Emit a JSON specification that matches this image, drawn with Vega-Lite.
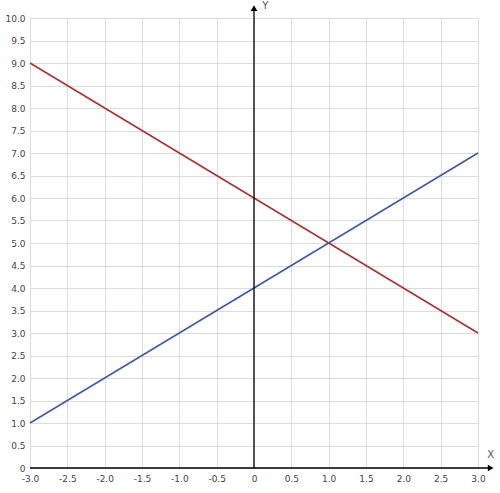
{
  "$schema": "https://vega.github.io/schema/vega-lite/v6.json",
  "width": 448,
  "height": 450,
  "autosize": {"type": "none"},
  "padding": {"left": 30, "top": 18, "right": 22, "bottom": 25},
  "background": "white",
  "config": {"view": {"stroke": null}, "font": "DejaVu Sans"},
  "datasets": {
    "lines": [
      {"series": "red", "x": -3, "y": 9},
      {"series": "red", "x": 3, "y": 3},
      {"series": "blue", "x": -3, "y": 1},
      {"series": "blue", "x": 3, "y": 7}
    ],
    "yaxis": [{"x": 0, "y": 0, "y2": 10.25}],
    "xaxis": [{"y": 0, "x": -3, "x2": 3.15}],
    "yarrow": [{"x": 0, "y": 10.22}],
    "xarrow": [{"x": 3.17, "y": 0}],
    "labels": [{"t": "Y", "x": 0.15, "y": 10.26}, {"t": "X", "x": 3.17, "y": 0.3}]
  },
  "encoding": {
    "x": {
      "field": "x", "type": "quantitative",
      "scale": {"domain": [-3, 3], "nice": false, "zero": false},
      "axis": {
        "title": null, "values": [-3,-2.5,-2,-1.5,-1,-0.5,0,0.5,1,1.5,2,2.5,3],
        "labelExpr": "datum.value == 0 ? '0' : (datum.value < 0 ? '-' : '') + format(abs(datum.value), '.1f')",
        "grid": true, "gridColor": "#dcdcdc", "gridWidth": 1,
        "domain": false, "ticks": false, "labelPadding": 6,
        "labelFontSize": 9, "labelColor": "#444", "labelFlush": false, "labelOverlap": false
      }
    },
    "y": {
      "field": "y", "type": "quantitative",
      "scale": {"domain": [0, 10], "nice": false},
      "axis": {
        "title": null, "values": [0,0.5,1,1.5,2,2.5,3,3.5,4,4.5,5,5.5,6,6.5,7,7.5,8,8.5,9,9.5,10],
        "labelExpr": "datum.value == 0 ? '0' : format(datum.value, '.1f')",
        "grid": true, "gridColor": "#dcdcdc", "gridWidth": 1,
        "domain": false, "ticks": false, "labelPadding": 5,
        "labelFontSize": 9, "labelColor": "#444", "labelFlush": false, "labelOverlap": false
      }
    }
  },
  "layer": [
    {
      "data": {"name": "lines"},
      "mark": {"type": "line", "strokeWidth": 1.5, "clip": false},
      "encoding": {
        "color": {
          "field": "series", "type": "nominal",
          "scale": {"domain": ["red", "blue"], "range": ["#a8302e", "#3d58a6"]},
          "legend": null
        },
        "detail": {"field": "series"}
      }
    },
    {
      "data": {"name": "yaxis"},
      "mark": {"type": "rule", "color": "black", "strokeWidth": 1.3},
      "encoding": {"y2": {"field": "y2"}}
    },
    {
      "data": {"name": "xaxis"},
      "mark": {"type": "rule", "color": "black", "strokeWidth": 1.5},
      "encoding": {"x2": {"field": "x2"}}
    },
    {
      "data": {"name": "yarrow"},
      "mark": {"type": "point", "shape": "triangle-up", "filled": true, "color": "black", "size": 45, "opacity": 1},
      "encoding": {}
    },
    {
      "data": {"name": "xarrow"},
      "mark": {"type": "point", "shape": "triangle-right", "filled": true, "color": "black", "size": 45, "opacity": 1},
      "encoding": {}
    },
    {
      "data": {"name": "labels"},
      "mark": {"type": "text", "fontSize": 10, "color": "#555", "align": "center", "baseline": "middle"},
      "encoding": {"text": {"field": "t"}}
    }
  ]
}
